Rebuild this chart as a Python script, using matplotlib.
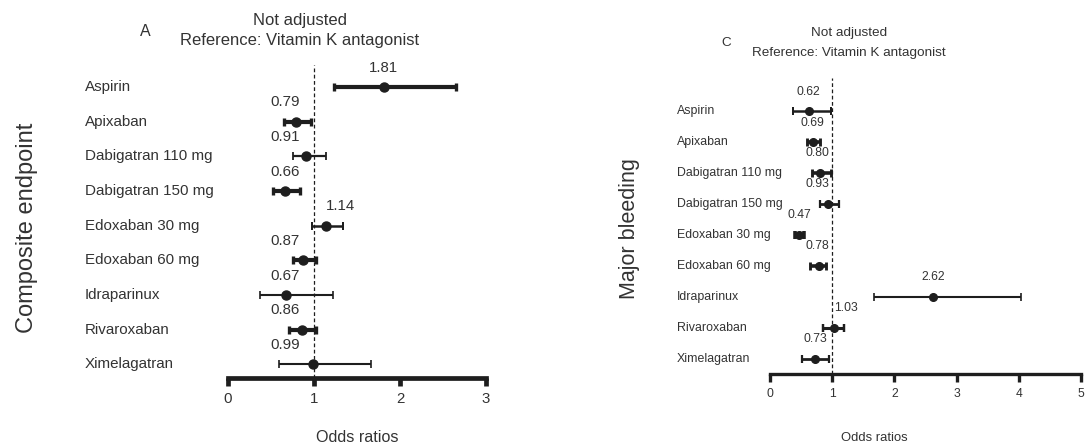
import numpy as np
import matplotlib.pyplot as plt
from matplotlib.transforms import blended_transform_factory

plt.rcParams['font.family'] = ['Liberation Sans', 'DejaVu Sans']

drugs = ["Aspirin", "Apixaban", "Dabigatran 110 mg", "Dabigatran 150 mg",
         "Edoxaban 30 mg", "Edoxaban 60 mg", "Idraparinux", "Rivaroxaban",
         "Ximelagatran"]

# panel A - composite endpoint
comp_or = [1.81, 0.79, 0.91, 0.66, 1.14, 0.87, 0.67, 0.86, 0.99]
comp_lo = [1.23, 0.65, 0.75, 0.52, 0.98, 0.75, 0.37, 0.71, 0.59]
comp_hi = [2.65, 0.97, 1.14, 0.84, 1.34, 1.02, 1.22, 1.02, 1.66]

# panel C - major bleeding
bleed_or = [0.62, 0.69, 0.80, 0.93, 0.47, 0.78, 2.62, 1.03, 0.73]
bleed_lo = [0.37, 0.59, 0.68, 0.80, 0.40, 0.64, 1.67, 0.86, 0.51]
bleed_hi = [0.98, 0.80, 0.98, 1.11, 0.55, 0.90, 4.04, 1.19, 0.95]

# bar thickness per row (style only)
comp_lw = [3.0, 3.0, 1.6, 3.0, 1.8, 3.0, 1.5, 3.0, 1.5]
bleed_lw = [1.8, 2.6, 2.6, 2.0, 3.2, 2.6, 1.5, 2.2, 2.0]

ink = '#1e1e1e'
txt = '#333333'

W, H = 1089, 446
fig = plt.figure(figsize=(W / 100, H / 100), dpi=100)


def forest(rect, ors, lo, hi, lws, ylim, xmax, cap_x, fs, vfs, lab_px, spine_lw, ms, lab_dy):
    ax = fig.add_axes(rect)
    y = np.arange(len(drugs))
    for i in range(len(drugs)):
        ax.errorbar(ors[i], y[i], xerr=[[ors[i] - lo[i]], [hi[i] - ors[i]]],
                    fmt='o', color=ink, ms=ms, elinewidth=lws[i], capsize=2.6,
                    capthick=lws[i] * 0.8, zorder=3)
        v = ors[i]
        if v < 1:
            ax.text(min(v, cap_x), y[i] - lab_dy, f"{v:.2f}", ha='center', va='center',
                    fontsize=vfs, color=txt)
        elif v - 1 < 0.3:
            ax.text(v, y[i] - lab_dy, f"{v:.2f}", ha='left', va='center',
                    fontsize=vfs, color=txt)
        else:
            ax.text(v, y[i] - lab_dy, f"{v:.2f}", ha='center', va='center',
                    fontsize=vfs, color=txt)
    ax.axvline(1, color=ink, lw=0.9, ls=(0, (3, 2)), zorder=1)
    ax.set_xlim(0, xmax)
    ax.set_ylim(*ylim)
    ax.set_xticks(range(xmax + 1))
    ax.set_yticks([])
    for s in ['left', 'top', 'right']:
        ax.spines[s].set_visible(False)
    ax.spines['bottom'].set_linewidth(spine_lw)
    ax.spines['bottom'].set_color(ink)
    ax.tick_params(axis='x', width=spine_lw, length=6, colors=ink,
                   labelsize=vfs, labelcolor=txt, pad=4)
    tr = blended_transform_factory(fig.transFigure, ax.transData)
    for i, d in enumerate(drugs):
        ax.text(lab_px / W, y[i], d, transform=tr, ha='left', va='center',
                fontsize=fs, color=txt)
    return ax


axA = forest([228 / W, 1 - 378 / H, 258 / W, 313 / H], comp_or, comp_lo, comp_hi,
             comp_lw, (8.4, -0.64), 3, 0.66, 10.9, 10.8, 85, 3.4, 6.5, 0.56)
axC = forest([770 / W, 1 - 374 / H, 311 / W, 296 / H], bleed_or, bleed_lo, bleed_hi,
             bleed_lw, (8.5, -1.07), 5, 0.76, 8.9, 8.7, 677, 2.4, 5.5, 0.63)

# titles and panel letters
fig.text(300 / W, 1 - 20 / H, "Not adjusted", ha='center', va='center', fontsize=12, color=txt)
fig.text(300 / W, 1 - 41 / H, "Reference: Vitamin K antagonist", ha='center', va='center',
         fontsize=12, color=txt)
fig.text(145 / W, 1 - 32 / H, "A", ha='center', va='center', fontsize=11.5, color=txt)

fig.text(849 / W, 1 - 33 / H, "Not adjusted", ha='center', va='center', fontsize=9.7, color=txt)
fig.text(849 / W, 1 - 53 / H, "Reference: Vitamin K antagonist", ha='center', va='center',
         fontsize=9.7, color=txt)
fig.text(726 / W, 1 - 43 / H, "C", ha='center', va='center', fontsize=9.7, color=txt)

# axis titles
fig.text(27 / W, 1 - 228 / H, "Composite endpoint", rotation=90, ha='center', va='center',
         fontsize=17, color=txt)
fig.text(630 / W, 1 - 229 / H, "Major bleeding", rotation=90, ha='center', va='center',
         fontsize=15.5, color=txt)
fig.text(357 / W, 1 - 437 / H, "Odds ratios", ha='center', va='center', fontsize=11.6, color=txt)
fig.text(874 / W, 1 - 438 / H, "Odds ratios", ha='center', va='center', fontsize=9.4, color=txt)

fig.savefig("out.png", dpi=100)
